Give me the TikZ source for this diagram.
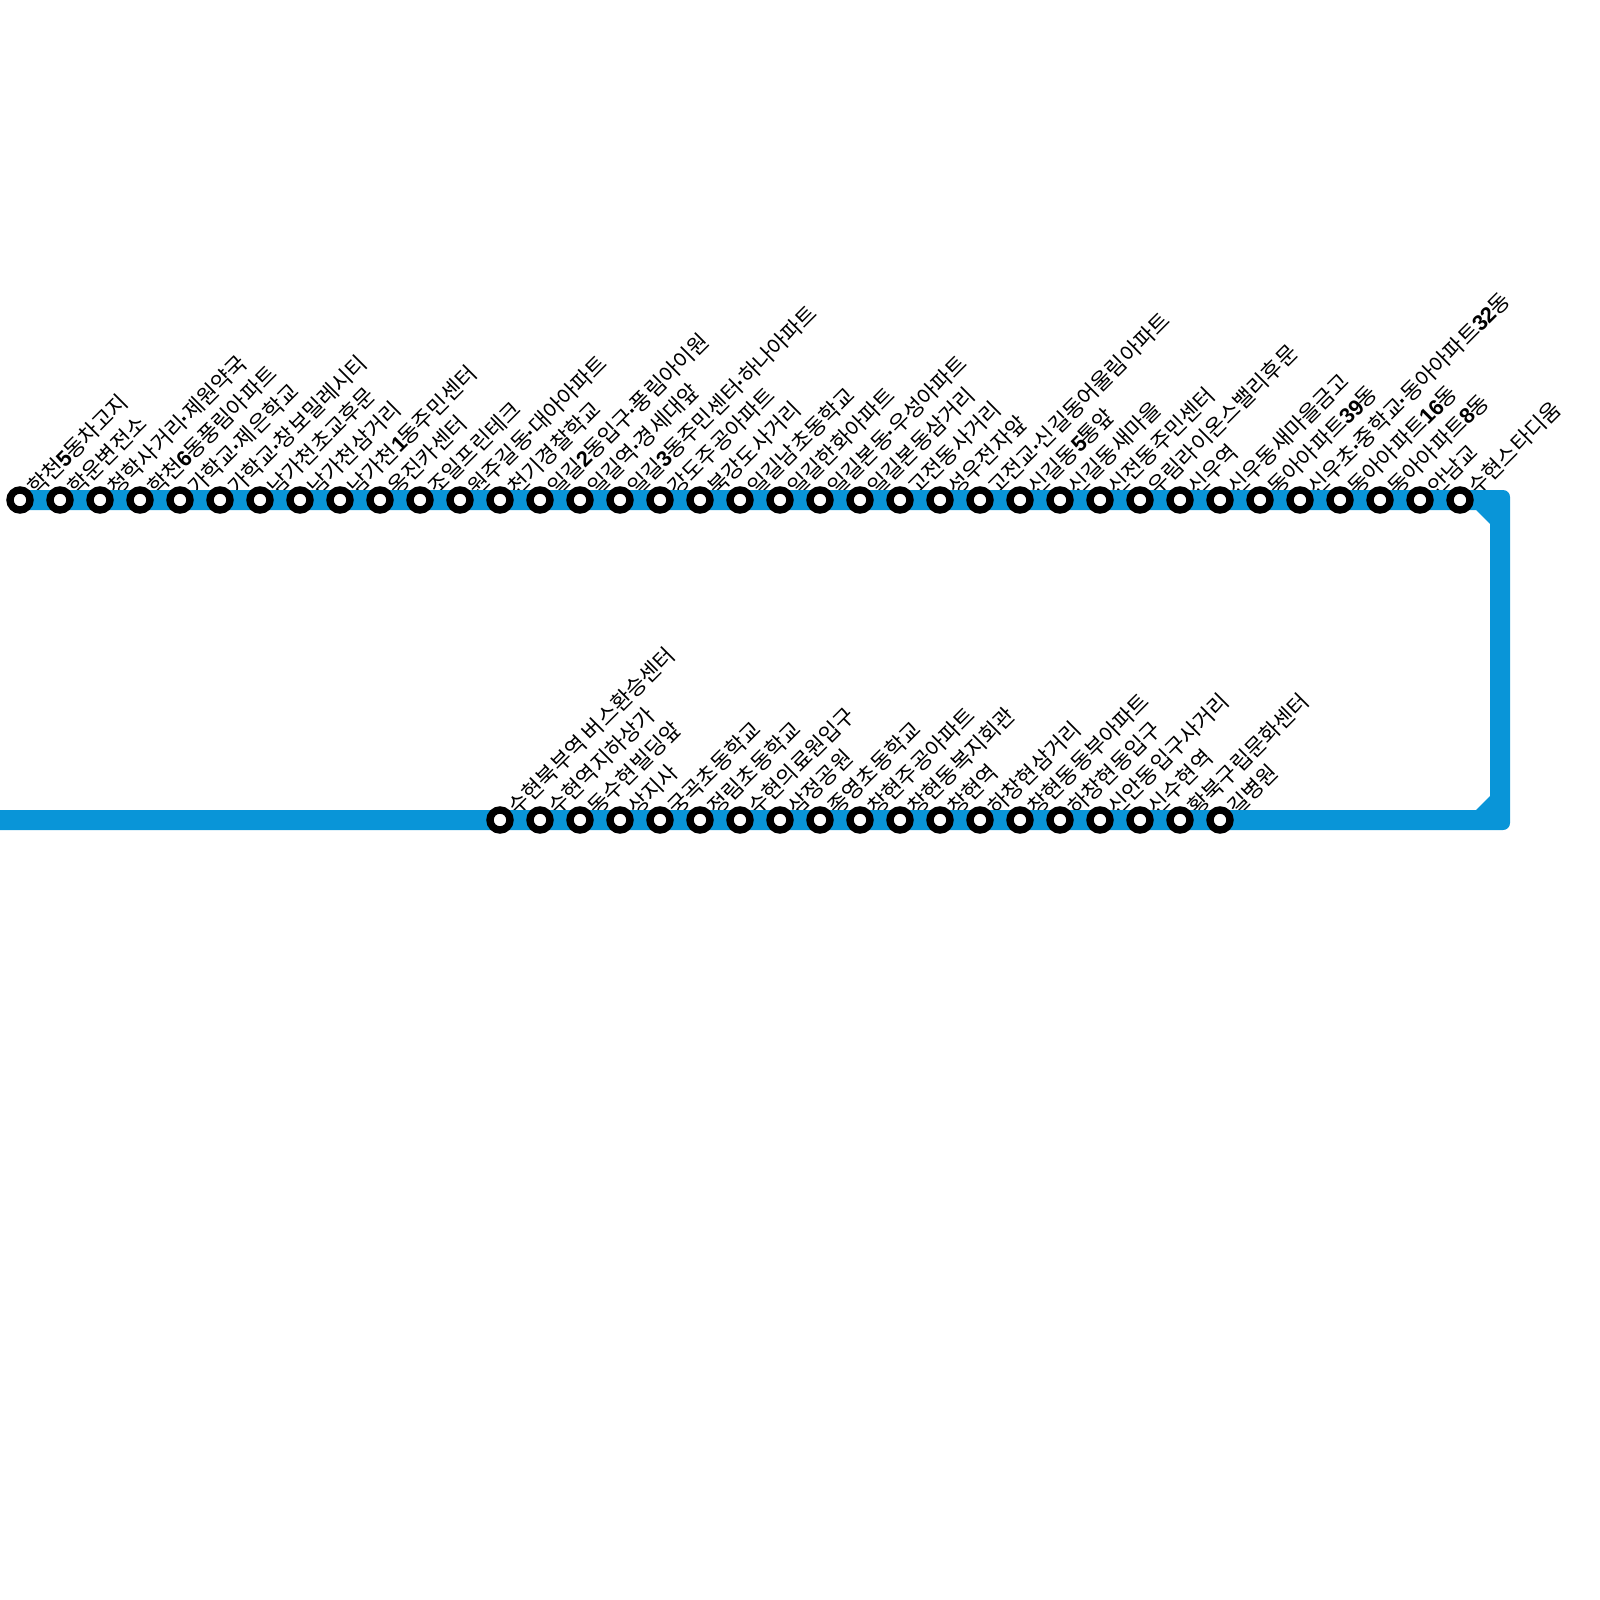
\documentclass[tikz,border=0pt]{standalone}
\usepackage{fontspec}
\setmainfont{Noto Sans CJK KR}
\newfontfamily\numfont{Liberation Sans}
\newcommand{\stopnum}[1]{{\numfont\bfseries #1}\kern-.4pt}
\newcommand{\stopdot}{\kern-.25pt{\numfont\bfseries ·}\kern-.25pt}
\newcommand{\topnames}{학천\stopnum{5}동차고지,학운변전소,청학사거리\stopdot 제원약국,학천\stopnum{6}동풍림아파트,
  가학교\stopdot 제은학교,가학교\stopdot 창보밀레시티,남가천초교후문,남가천삼거리,남가천\stopnum{1}동주민센터,옹진카센터,
  조일프린테크,원주길동\stopdot 대아아파트,천기경찰학교,일길\stopnum{2}동입구\stopdot 풍림아이원,일길역\stopdot 경세대앞,
  일길\stopnum{3}동주민센터\stopdot 하나아파트,강도주공아파트,북강도사거리,일길남초동학교,일길한화아파트,
  일길본동\stopdot 우성아파트,일길본동삼거리,고전동사거리,성우전자앞,고전교\stopdot 신길동어울림아파트,신길동\stopnum{5}통앞,
  신길동새마을,신전동주민센터,우림라이온스밸리후문,신우역,신우동새마을금고,동아아파트\stopnum{39}동,
  신우초\stopdot 중학교\stopdot 동아아파트\stopnum{32}동,동아아파트\stopnum{16}동,동아아파트\stopnum{8}동,안남교,수현스타디움}
\newcommand{\bottomnames}{수현북부역 버스환승센터,수현역지하상가,동수현빌딩앞,상지사,궁곡초동학교,정림초동학교,
  수현의료원입구,삼정공원,종영초동학교,창현주공아파트,창현동복지회관,창현역,하창현삼거리,창현동동부아파트,
  하창현동입구,신안동입구사거리,신수현역,황북구립문화센터,길병원}
\definecolor{routeblue}{HTML}{0995D8}
\begin{document}
\begin{tikzpicture}[x=0.01cm,y=-0.01cm,
    stop/.style={circle,draw=black,fill=white,line width=2.1pt,outer sep=0pt,minimum size=0.2cm,inner sep=0pt},
    stoplabel/.style={anchor=base west,rotate=45,inner sep=0pt,font=\fontsize{6.2}{7}\selectfont}]
  \useasboundingbox (0,0) rectangle (1600,1600);
  % labels go under the line
  \foreach \stopname [count=\i] in \topnames {
    \node[stoplabel] (toplabel\i) at ({-3+40*\i},497) {\stopname};
  }
  \foreach \stopname [count=\i] in \bottomnames {
    \node[stoplabel] (bottomlabel\i) at ({477+40*\i},817) {\stopname};
  }
  \fill[routeblue] (20,490) [rounded corners=2pt] -- (1510,490) -- (1510,830) [sharp corners] -- (0,830)
    -- (0,810) -- (1476,810) -- (1490,796) -- (1490,524) -- (1476,510) -- (20,510) -- cycle;
  \foreach \i in {1,...,37} {
    \node[stop] (top\i) at ({-20+40*\i},500) {};
  }
  \foreach \i in {1,...,19} {
    \node[stop] (bottom\i) at ({460+40*\i},820) {};
  }
\end{tikzpicture}
\end{document}
